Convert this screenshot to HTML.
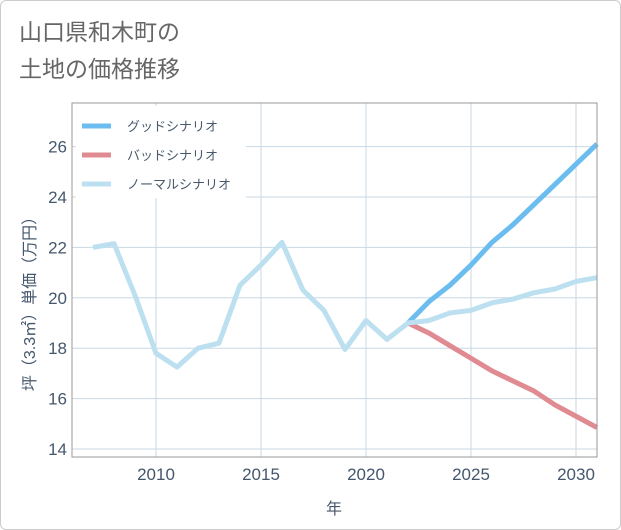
<!DOCTYPE html>
<html><head><meta charset="utf-8"><style>
body{margin:0;background:#fff;font-family:"Liberation Sans","Noto Sans CJK JP",sans-serif;}
#wrap{position:relative;width:619px;height:528px;border:1px solid #ccc;border-radius:6px;overflow:hidden}
</style></head><body>
<div id="wrap">
<svg id="chart" width="621" height="530" style="position:absolute;left:-1px;top:-1px">
<text x="19" y="40" font-size="23" fill="#666">山口県和木町の</text>
<text x="19" y="77" font-size="23" fill="#666">土地の価格推移</text>
<g id="grid"></g><g id="series"></g><g id="axes"></g>
</svg>
</div>
<script>
const years=[2007,2008,2009,2010,2011,2012,2013,2014,2015,2016,2017,2018,2019,2020,2021,2022,2023,2024,2025,2026,2027,2028,2029,2030,2031];
const normalValues=[22.0,22.15,20.1,17.8,17.25,18.0,18.2,20.5,21.3,22.2,20.3,19.5,17.95,19.1,18.35,19.0,19.1,19.4,19.5,19.8,19.95,20.2,20.35,20.65,20.8];
const goodYears=[2022,2023,2024,2025,2026,2027,2028,2029,2030,2031];
const goodValues=[19.0,19.85,20.5,21.3,22.2,22.9,23.7,24.5,25.3,26.1];
const badValues=[19.0,18.6,18.1,17.6,17.1,16.7,16.3,15.75,15.3,14.85];
const xTicks=[2010,2015,2020,2025,2030];
const yTicks=[14,16,18,20,22,24,26];
const L=72,R=597,T=103,B=457;
const x=v=>156+(v-2010)*21;
const y=v=>449-(v-14)*25.2;
const NS="http://www.w3.org/2000/svg";
function mk(tag,attrs,parent){const e=document.createElementNS(NS,tag);for(const k in attrs)e.setAttribute(k,attrs[k]);parent.appendChild(e);return e;}
const grid=document.getElementById('grid'),ser=document.getElementById('series'),ax=document.getElementById('axes');
xTicks.forEach(t=>{const l=mk('line',{x1:x(t),x2:x(t),y1:T,y2:B,stroke:'#c8d8e6','stroke-width':1},grid);


const s=mk('text',{x:x(t),y:480,'font-size':17,fill:'#45576d','text-anchor':'middle'},ax);s.textContent=t;

});
yTicks.forEach(t=>{const l=mk('line',{x1:L,x2:R,y1:y(t),y2:y(t),stroke:'#c8d8e6','stroke-width':1},grid);


const s=mk('text',{x:67,y:y(t)+6,'font-size':17,fill:'#45576d','text-anchor':'end'},ax);s.textContent=t;

});
const fr=mk('rect',{x:L,y:T,width:R-L,height:B-T,fill:'none',stroke:'#999','stroke-width':1},ax);


function line(xs,vs,color,name){const p=mk('polyline',{points:xs.map((a,i)=>x(a)+','+y(vs[i])).join(' '),fill:'none',stroke:color,'stroke-width':5,'stroke-linejoin':'round'},ser);

}
line(goodYears,goodValues,'#6bbdf0','good-scenario-line');
line(goodYears,badValues,'#e08a92','bad-scenario-line');
line(years,normalValues,'#bde0f0','normal-scenario-line');
const lg=mk('rect',{x:76,y:106,width:170,height:92,fill:'#fff'},ax);


[['グッドシナリオ','#6bbdf0'],['バッドシナリオ','#e08a92'],['ノーマルシナリオ','#bde0f0']].forEach((d,i)=>{
const yy=126+i*29;
const sw=mk('line',{x1:82,x2:111,y1:yy,y2:yy,stroke:d[1],'stroke-width':5},ax);


const t=mk('text',{x:127,y:yy+5,'font-size':13,fill:'#4a5a6e'},ax);t.textContent=d[0];

});
const xt=mk('text',{x:334,y:514,'font-size':16,fill:'#45576d','text-anchor':'middle'},ax);xt.textContent='年';


const yt=mk('text',{x:0,y:0,'font-size':16,fill:'#45576d','text-anchor':'middle',transform:'translate(35,300) rotate(-90)'},ax);yt.textContent='坪（3.3㎡）単価（万円）';


</script>
</body></html>
